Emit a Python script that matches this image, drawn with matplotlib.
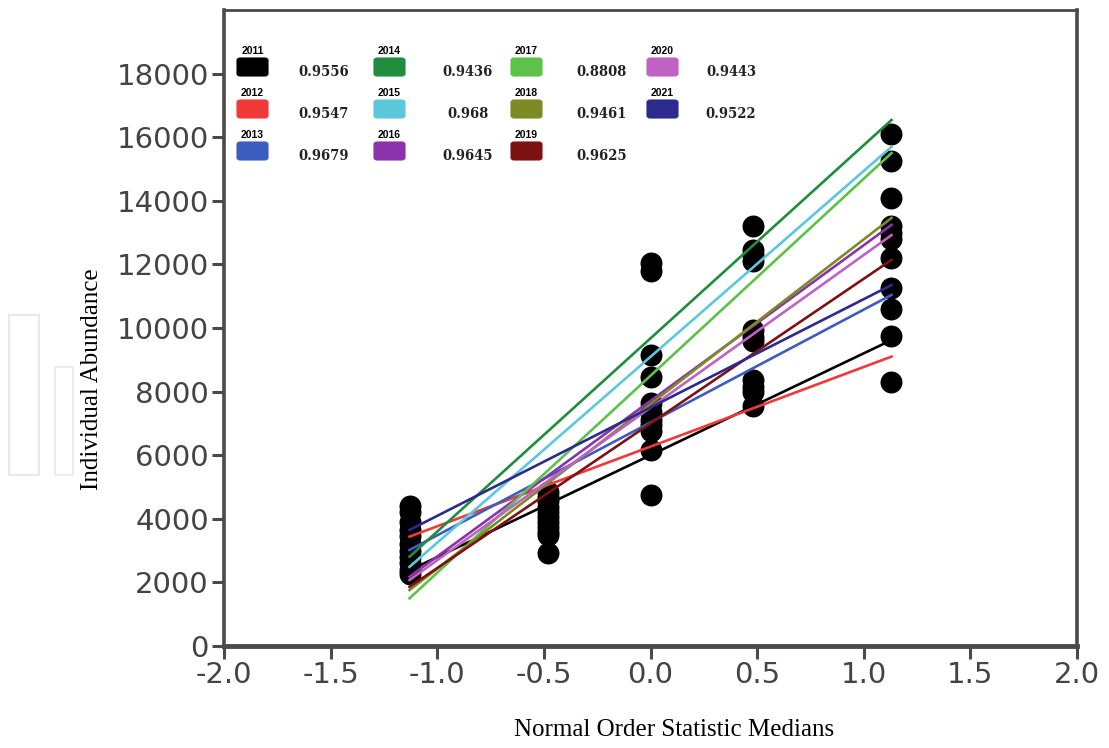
import matplotlib
matplotlib.use("Agg")
import matplotlib.pyplot as plt
from matplotlib.patches import FancyBboxPatch, Rectangle

# normal order statistic medians (n = 5)
x_pos = [-1.13, -0.48, 0.0, 0.48, 1.13]

# abundance values per median position (all years together)
pts_m113 = [4400, 4200, 3900, 3650, 3450, 3200, 3000, 2800, 2600, 2400, 2250]
pts_m048 = [4850, 4700, 4550, 4380, 4200, 4070, 3900, 3750, 3600, 3490, 2930]
pts_0 = [12050, 11780, 9150, 8450, 7650, 7350, 7100, 6950, 6750, 6150, 4750]
pts_p048 = [13200, 12450, 12300, 12120, 9950, 9730, 9600, 8370, 8150, 8000, 7560]
pts_p113 = [16100, 15250, 14100, 13200, 13000, 12800, 12200, 11250, 10600, 9750, 8300]

years = ["2011", "2012", "2013", "2014", "2015", "2016",
         "2017", "2018", "2019", "2020", "2021"]
colors = ["#000000", "#f03a3a", "#3d5cc0", "#1f8c3e", "#5cc8dc", "#8a33ad",
          "#5cc24a", "#7e8a24", "#7d1212", "#c062c4", "#2c2a8c"]
r_vals = ["0.9556", "0.9547", "0.9679", "0.9436", "0.968", "0.9645",
          "0.8808", "0.9461", "0.9625", "0.9443", "0.9522"]

# fitted line values at the first and last median
line_lo = [2380, 3440, 3020, 2810, 2490, 2180, 1500, 1760, 1860, 2075, 3650]
line_hi = [9620, 9100, 11040, 16540, 15700, 13240, 15500, 13460, 12140, 12920, 11350]

W, H = 1109, 748
fig = plt.figure(figsize=(W / 100, H / 100), dpi=100)
ax = fig.add_axes([224 / W, 1 - 646 / H, (1077 - 224) / W, (646 - 10) / H])

# scatter of all points
cols = [pts_m113, pts_m048, pts_0, pts_p048, pts_p113]
for xv, vals in zip(x_pos, cols):
    ax.scatter([xv] * len(vals), vals, s=250, color="black", zorder=2, linewidths=0)

# regression lines
for lo, hi, c in zip(line_lo, line_hi, colors):
    ax.plot([x_pos[0], x_pos[-1]], [lo, hi], color=c, lw=1.9, zorder=3)

ax.set_xlim(-2.0, 2.0)
ax.set_ylim(0, 20000)
ax.set_xticks([-2.0, -1.5, -1.0, -0.5, 0.0, 0.5, 1.0, 1.5, 2.0])
ax.set_xticklabels(["-2.0", "-1.5", "-1.0", "-0.5", "0.0", "0.5", "1.0", "1.5", "2.0"])
ax.set_yticks(range(0, 18001, 2000))
ax.tick_params(axis="both", direction="out", length=9, width=2.2, color="#4a4a4a",
               labelsize=21, labelcolor="#444444", pad=2)

for side in ["left", "right"]:
    ax.spines[side].set_linewidth(2.6)
    ax.spines[side].set_color("#4a4a4a")
ax.spines["bottom"].set_linewidth(3.5)
ax.spines["bottom"].set_color("#4a4a4a")
ax.spines["top"].set_linewidth(2.0)
ax.spines["top"].set_color("#4a4a4a")

ax.set_xlabel("Normal Order Statistic Medians", family="Liberation Serif",
              fontsize=18)
ax.xaxis.set_label_coords(0.5275, -0.115)
ax.set_ylabel("Individual Abundance", family="Liberation Serif", fontsize=18)
ax.yaxis.set_label_coords(-0.142, 0.42)


def fx(px):
    return px / W


def fy(py):
    return 1 - py / H


# legend grid: 4 columns x 3 rows
col_box_x = [237, 374, 511, 647]
col_val_x = [324, 468, 602, 731]
row_box_y = [67, 109, 151]
bw, bh = 31, 18
for i, (yr, c, rv) in enumerate(zip(years, colors, r_vals)):
    col, row = i // 3, i % 3
    bx, by = col_box_x[col], row_box_y[row]
    fig.patches.append(FancyBboxPatch(
        (fx(bx), fy(by + bh / 2)), bw / W, bh / H,
        boxstyle="round,pad=0,rounding_size=0.003", transform=fig.transFigure,
        facecolor=c, edgecolor=c, lw=0.8))
    fig.text(fx(bx + bw / 2), fy(by - bh / 2 - 7), yr, ha="center", va="center",
             family="Liberation Sans", weight="bold", fontsize=7.5)
    fig.text(fx(col_val_x[col]), fy(by + 5), rv, ha="center", va="center",
             family="DejaVu Serif", stretch="condensed", weight="bold",
             fontsize=10.5, color="#222222")

# faint page artifacts at the left edge
fig.patches.append(Rectangle((fx(9), fy(475)), 30 / W, 160 / H, transform=fig.transFigure,
                             fill=False, edgecolor="#e4e4e4", lw=1.2))
fig.patches.append(Rectangle((fx(55), fy(475)), 18 / W, 108 / H, transform=fig.transFigure,
                             fill=False, edgecolor="#e8e8e8", lw=1.2))

fig.savefig("out.png", dpi=100)
